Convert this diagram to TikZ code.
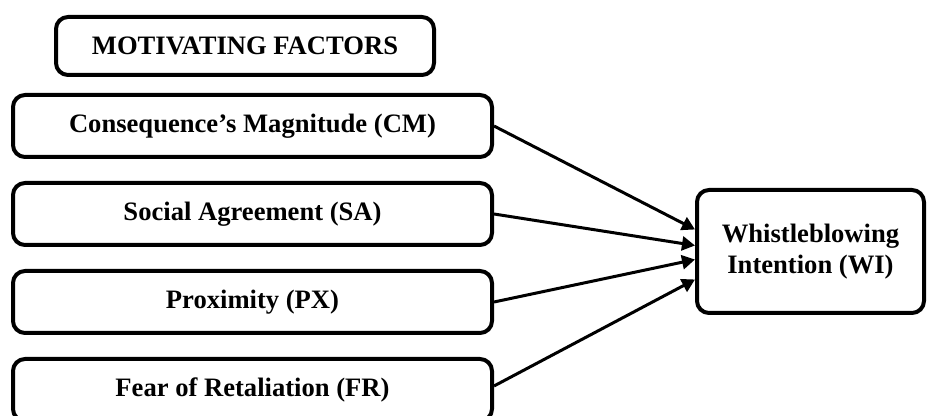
\documentclass[tikz,border=0pt]{standalone}
\usepackage{fontspec}
\setmainfont{Liberation Serif}
\usetikzlibrary{positioning}
\usetikzlibrary{arrows.meta}
\tikzset{node distance=11pt, % Gap between the factor boxes. Change if necessary.
every node/.style={ % Text of all boxes
font=\bfseries\fontsize{13.3}{15.5}\selectfont},
box/.style={ % Sets the properties for each box
draw,
line width=2pt,
rounded corners=6pt,
align=center,
inner sep=0pt},
factor/.style={ % Boxes of the motivating factors
box,
minimum width=239.5pt,
minimum height=31pt},
link/.style={ % Sets the properties for each arrow
draw,
-{Triangle[length=6.5pt,width=7pt]}, % Filled arrowheads
line width=1.5pt}}

\begin{document}
\begin{tikzpicture}[x=0.5pt,y=-0.5pt]
                \useasboundingbox (0,0) rectangle (928,416);
                \node[box, minimum width=189pt, minimum height=29pt] (mf) at (245,46) {MOTIVATING FACTORS};
                \node[factor] (cm) at (252.5,126) {Consequence’s Magnitude (CM)};
                \node[factor, below = of cm] (sa) {Social Agreement (SA)};
                \node[factor, below = of sa] (px) {Proximity (PX)};
                \node[factor, below = of px] (fr) {Fear of Retaliation (FR)};
                \node[box, minimum width=113.5pt, minimum height=61.5pt] (wi) at (810.5,251.5) {Whistleblowing\\Intention (WI)};

                \draw[link] (cm.east) -- ([yshift=11pt]wi.west);
                \draw[link] (sa.east) -- ([yshift=3pt]wi.west);
                \draw[link] (px.east) -- ([yshift=-4pt]wi.west);
                \draw[link] ([yshift=2pt]fr.east) -- ([yshift=-14pt]wi.west);
            \end{tikzpicture}
\end{document}
